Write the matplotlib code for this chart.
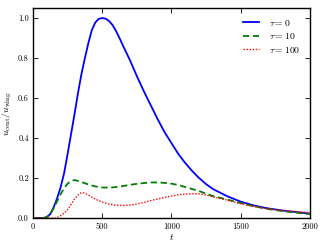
import matplotlib
matplotlib.use("Agg")
import matplotlib.pyplot as plt

plt.rcParams.update({
    "font.family": "serif",
    "font.serif": ["cmr10", "DejaVu Serif"],
    "mathtext.fontset": "cm",
    "axes.formatter.use_mathtext": True,
    "axes.unicode_minus": False,
})

t_blue = [0, 80, 100, 125, 150, 175, 200, 225, 250, 275, 300, 325, 350, 375, 400, 425, 450, 475,
          500, 525, 550, 575, 600, 625, 650, 700, 750, 800, 850, 900, 950, 1000, 1050, 1100, 1150,
          1200, 1250, 1300, 1400, 1500, 1600, 1700, 1800, 1900, 2000]
u_blue = [0, 0, 0.005, 0.02, 0.055, 0.1, 0.155, 0.225, 0.32, 0.42, 0.52, 0.625, 0.72, 0.80, 0.875,
          0.94, 0.978, 0.996, 1.0, 0.997, 0.985, 0.965, 0.935, 0.9, 0.862, 0.79, 0.71, 0.635,
          0.565, 0.495, 0.43, 0.375, 0.32, 0.275, 0.235, 0.2, 0.17, 0.145, 0.11, 0.082, 0.062,
          0.048, 0.038, 0.03, 0.022]

t_green = [0, 70, 100, 125, 150, 175, 200, 225, 250, 275, 300, 325, 350, 400, 450, 500, 550, 600,
           650, 700, 750, 800, 850, 900, 950, 1000, 1050, 1100, 1150, 1200, 1250, 1300, 1400,
           1500, 1600, 1700, 1800, 1900, 2000]
u_green = [0, 0, 0.005, 0.02, 0.05, 0.085, 0.12, 0.15, 0.172, 0.185, 0.19, 0.186, 0.18, 0.168,
           0.158, 0.153, 0.152, 0.155, 0.16, 0.166, 0.171, 0.175, 0.178, 0.178, 0.176, 0.172,
           0.165, 0.155, 0.145, 0.135, 0.122, 0.11, 0.093, 0.075, 0.058, 0.045, 0.035, 0.027, 0.02]

t_red = [0, 160, 175, 200, 225, 250, 275, 300, 325, 350, 375, 400, 450, 500, 550, 600, 650, 700,
         750, 800, 850, 900, 950, 1000, 1050, 1100, 1150, 1200, 1250, 1300, 1350, 1400, 1500,
         1600, 1700, 1800, 1900, 2000]
u_red = [0, 0, 0.003, 0.012, 0.025, 0.042, 0.068, 0.095, 0.115, 0.127, 0.125, 0.115, 0.095, 0.08,
         0.07, 0.064, 0.063, 0.065, 0.07, 0.078, 0.087, 0.095, 0.103, 0.11, 0.116, 0.12, 0.122,
         0.121, 0.115, 0.106, 0.098, 0.09, 0.072, 0.057, 0.046, 0.038, 0.032, 0.027]

labels = [r"$\tau = 0$", r"$\tau = 10$", r"$\tau = 100$"]
x_ticks = [0, 500, 1000, 1500, 2000]
y_ticks = [0.0, 0.2, 0.4, 0.6, 0.8, 1.0]

fig = plt.figure(figsize=(3.25, 2.45), dpi=100)
ax = fig.add_axes([0.1015, 0.110, 0.852, 0.857])

ax.plot(t_blue, u_blue, color="#0000ff", lw=1.3, label=labels[0])
ax.plot(t_green, u_green, color="#007f00", lw=1.3, ls=(0, (3.5, 2.0)), label=labels[1])
ax.plot(t_red, u_red, color="#ff0000", lw=1.0, ls=(0, (1, 1.2)), label=labels[2])

ax.set_xlim(0, 2000)
ax.set_ylim(0, 1.05)
ax.set_xticks(x_ticks)
ax.set_yticks(y_ticks)
ax.set_xticklabels([str(v) for v in x_ticks])
ax.set_yticklabels(["%.1f" % v for v in y_ticks])
ax.tick_params(direction="in", top=True, right=True, length=3.5, width=0.6,
               labelsize=6, pad=3)
for s in ax.spines.values():
    s.set_linewidth(1.0)

ax.set_xlabel(r"$t$", fontsize=7, labelpad=1)
ax.set_ylabel(r"$u_{\rm cent}/u_{\rm wing}$", fontsize=7, labelpad=3)

ax.legend(loc="upper right", frameon=False, fontsize=7, handlelength=1.6,
          handletextpad=1.0, labelspacing=0.35, borderaxespad=0.6)

fig.savefig("out.png", dpi=100)
